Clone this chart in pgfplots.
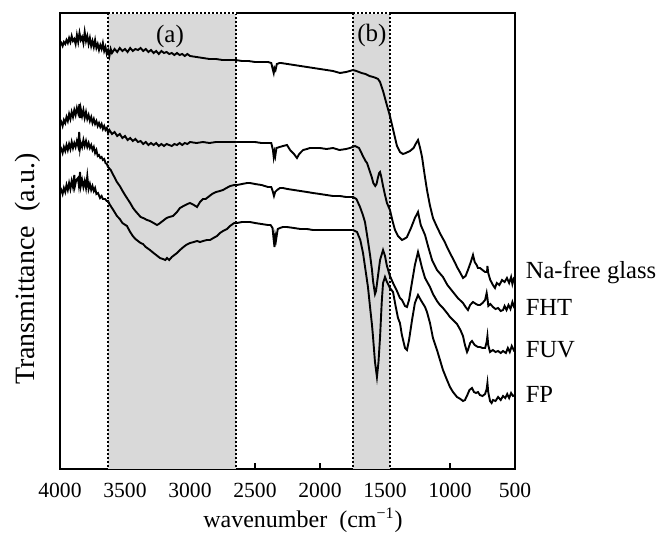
\documentclass[border=0pt]{standalone}
\usepackage{pgfplots}
\pgfplotsset{compat=1.18}
\usepackage{fontspec}
\setmainfont{Liberation Serif}
\definecolor{shade}{RGB}{217,217,217}
\begin{document}
\begin{tikzpicture}
\useasboundingbox (0,0) rectangle (331.5pt,267.5pt);
\begin{axis}[
  at={(30pt,33pt)}, anchor=south west,
  width=227.5pt, height=228pt, scale only axis,
  x dir=reverse, y dir=reverse,
  xmin=500, xmax=4000, ymin=13, ymax=469,
  xtick={500,1000,...,4000}, ytick=\empty,
  xtick pos=left, tick align=inside,
  major tick length=3pt,
  every tick/.style={black, line width=0.9pt},
  axis line style={line width=1pt},
  /pgf/number format/1000 sep={},
  /pgf/number format/assume math mode=true,
  xticklabel style={font=\fontsize{10.8}{12}\selectfont, yshift=-3.5pt},
  xlabel={wavenumber\ \ (cm\textsuperscript{−1})},
  xlabel style={at={(axis description cs:0.534,-0.112)}, anchor=center, font=\fontsize{12}{14}\selectfont},
  ylabel={Transmittance\ \ (a.u.)},
  ylabel style={at={(axis description cs:-0.07,0.439)}, anchor=center, font=\fontsize{14}{16}\selectfont},
  clip=false,
]
\addplot[draw=none, fill=shade] coordinates {(3630,13) (2645,13) (2645,469) (3630,469)};
\addplot[draw=none, fill=shade] coordinates {(1745,13) (1460,13) (1460,469) (1745,469)};
\addplot[densely dotted, line width=1pt] coordinates {(3630,13) (3630,469)};
\addplot[densely dotted, line width=1pt] coordinates {(2645,13) (2645,469)};
\addplot[densely dotted, line width=1pt] coordinates {(1745,13) (1745,469)};
\addplot[densely dotted, line width=1pt] coordinates {(1460,13) (1460,469)};
\coordinate (A1) at (axis cs:3630,13);
\coordinate (A2) at (axis cs:2645,13);
\coordinate (B1) at (axis cs:1745,13);
\coordinate (B2) at (axis cs:1460,13);

% Na-free glass
\addplot[black, line width=0.95pt] coordinates {(4000,45) (3990,43) (3980,46) (3970,42) (3960,44) (3950,40) (3940,43) (3930,38) (3920,42) (3910,36) (3900,41) (3890,39) (3880,44) (3870,35) (3860,42) (3850,33) (3840,40) (3830,37) (3820,43) (3810,32) (3800,41) (3790,36) (3780,44) (3770,38) (3760,46) (3750,41) (3740,47) (3730,40) (3720,48) (3710,44) (3700,50) (3690,45) (3680,49) (3670,43) (3660,51) (3650,47) (3640,54) (3630,50) (3620,56) (3610,49) (3600,53) (3580,49) (3560,52) (3540,48) (3520,51) (3500,49) (3480,52) (3460,48) (3440,51) (3420,49) (3400,50) (3380,48) (3360,51) (3340,49) (3320,52) (3300,50) (3280,53) (3260,51) (3240,54) (3220,51) (3200,53) (3180,52) (3160,54) (3140,53) (3120,55) (3100,53) (3080,55) (3060,54) (3040,56) (3020,54) (3000,56) (2950,57) (2900,58) (2850,59) (2800,59) (2750,60) (2700,60) (2650,60) (2600,61) (2550,61) (2500,62) (2450,62) (2400,62) (2375,63) (2362,70) (2356,73) (2350,68) (2342,70) (2332,64) (2310,63) (2300,63) (2250,64) (2200,65) (2150,66) (2100,67) (2050,68) (2000,69) (1950,70) (1900,71) (1846,73) (1800,72) (1770,71) (1746,70) (1720,71) (1700,72) (1680,73) (1650,74) (1620,76) (1590,77) (1570,78) (1554,79) (1538,82) (1515,91) (1490,103) (1462,116) (1435,131) (1408,146) (1385,152) (1362,154) (1340,153) (1308,151) (1280,148) (1260,143) (1246,140) (1230,148) (1215,157) (1195,175) (1177,190) (1155,205) (1131,218) (1100,227) (1070,235) (1040,242) (1023,247) (1000,253) (980,258) (960,263) (946,267) (920,273) (900,278) (880,276) (862,270) (840,262) (823,255) (810,262) (795,265) (785,268) (769,268) (750,270) (730,272) (715,272) (712,266) (706,273) (690,280) (670,285) (654,288) (640,283) (620,285) (600,280) (580,282) (562,278) (545,283) (530,277) (520,284) (510,279) (500,281)};

% FHT
\addplot[black, line width=0.95pt] coordinates {(4000,125) (3990,122) (3980,126) (3970,120) (3960,123) (3950,117) (3940,121) (3930,114) (3920,119) (3910,112) (3900,117) (3890,110) (3880,115) (3870,108) (3860,113) (3850,104) (3845,118) (3840,109) (3830,116) (3820,110) (3810,118) (3800,112) (3790,119) (3780,115) (3770,121) (3760,117) (3750,123) (3740,119) (3730,124) (3720,121) (3710,126) (3700,123) (3690,127) (3680,124) (3670,129) (3660,126) (3650,130) (3640,128) (3630,133) (3620,130) (3600,134) (3580,132) (3560,136) (3540,134) (3520,138) (3500,136) (3480,140) (3460,138) (3440,141) (3420,139) (3400,142) (3380,141) (3360,144) (3340,142) (3320,145) (3300,143) (3280,145) (3260,143) (3240,146) (3220,144) (3200,146) (3180,144) (3160,145) (3140,146) (3120,144) (3100,145) (3080,143) (3060,145) (3040,143) (3020,144) (3000,142) (2950,143) (2900,142) (2850,143) (2800,142) (2750,142) (2700,142) (2650,142) (2600,142) (2550,142) (2500,142) (2450,143) (2400,143) (2375,143) (2362,150) (2356,157) (2350,152) (2344,156) (2335,148) (2310,147) (2285,146) (2254,145) (2230,150) (2200,154) (2177,158) (2160,154) (2130,150) (2100,149) (2077,148) (2050,148) (2000,148) (1950,149) (1900,148) (1850,150) (1800,149) (1770,148) (1750,147) (1730,146) (1715,147) (1700,148) (1692,150) (1670,156) (1650,161) (1638,163) (1615,172) (1600,178) (1590,183) (1575,186) (1565,184) (1555,178) (1545,173) (1538,172) (1530,176) (1515,186) (1500,195) (1485,203) (1462,210) (1440,222) (1423,230) (1400,236) (1369,240) (1340,238) (1331,237) (1300,228) (1270,218) (1246,212) (1225,225) (1192,235) (1165,248) (1138,260) (1100,270) (1054,277) (1020,285) (977,292) (940,298) (900,303) (880,307) (862,310) (845,305) (823,302) (800,304) (785,305) (769,305) (750,303) (730,300) (718,293) (712,298) (705,306) (690,304) (669,307) (650,309) (630,308) (610,311) (592,310) (580,306) (565,310) (550,305) (535,309) (520,302) (510,306) (500,303)};

% FUV
\addplot[black, line width=0.95pt] coordinates {(4000,152) (3990,149) (3980,153) (3970,147) (3960,151) (3950,145) (3940,150) (3930,144) (3920,149) (3910,142) (3900,148) (3890,143) (3880,147) (3870,141) (3860,146) (3852,132) (3846,148) (3840,143) (3830,147) (3820,140) (3810,146) (3800,141) (3790,147) (3780,143) (3770,148) (3760,145) (3750,150) (3740,147) (3730,153) (3720,150) (3710,156) (3700,155) (3690,158) (3680,157) (3670,160) (3660,159) (3650,163) (3640,164) (3630,167) (3610,170) (3590,175) (3562,182) (3540,186) (3523,190) (3500,195) (3485,198) (3460,203) (3438,208) (3420,211) (3400,214) (3380,217) (3360,218) (3330,220) (3308,221) (3280,223) (3254,225) (3240,224) (3220,222) (3200,220) (3180,218) (3160,217) (3131,216) (3100,212) (3077,208) (3050,206) (3020,204) (3000,203) (2970,205) (2946,207) (2923,202) (2900,199) (2880,199) (2860,197) (2830,194) (2800,192) (2770,191) (2746,190) (2720,188) (2690,186) (2660,185) (2638,185) (2600,184) (2560,183) (2538,183) (2500,184) (2450,185) (2400,187) (2375,187) (2362,192) (2354,196) (2345,192) (2330,190) (2308,188) (2285,188) (2250,189) (2200,190) (2150,191) (2100,192) (2054,193) (2000,194) (1950,195) (1900,196) (1846,196) (1800,197) (1746,197) (1720,199) (1692,207) (1670,215) (1654,222) (1638,235) (1615,255) (1600,270) (1592,281) (1577,294) (1569,291) (1554,276) (1538,260) (1515,250) (1500,256) (1485,266) (1462,276) (1438,283) (1408,291) (1385,298) (1369,300) (1346,306) (1331,307) (1315,300) (1292,282) (1270,265) (1246,252) (1230,260) (1215,268) (1192,278) (1154,287) (1131,294) (1100,301) (1077,305) (1054,308) (1023,313) (1000,317) (977,320) (946,324) (920,330) (900,336) (885,345) (869,352) (862,350) (845,343) (831,341) (810,345) (785,347) (769,347) (750,348) (730,348) (718,342) (712,336) (706,345) (692,352) (670,350) (650,352) (630,351) (610,353) (592,351) (570,353) (555,348) (540,352) (525,346) (510,350) (500,348)};

% FP
\addplot[black, line width=0.95pt] coordinates {(4000,193) (3990,190) (3980,194) (3970,188) (3960,192) (3950,185) (3940,190) (3930,183) (3920,189) (3910,181) (3900,187) (3890,175) (3885,186) (3875,180) (3862,178) (3855,185) (3846,172) (3840,186) (3830,180) (3820,187) (3810,181) (3800,188) (3790,176) (3780,189) (3770,184) (3760,190) (3750,186) (3740,191) (3730,188) (3720,194) (3708,193) (3692,198) (3680,196) (3670,199) (3654,199) (3640,201) (3631,201) (3615,205) (3590,210) (3562,216) (3540,219) (3520,223) (3485,226) (3460,232) (3440,236) (3420,239) (3400,241) (3380,243) (3362,244) (3340,247) (3308,250) (3280,253) (3260,255) (3231,258) (3208,259) (3190,260) (3177,258) (3160,260) (3140,257) (3120,255) (3100,253) (3077,250) (3050,247) (3030,245) (3000,243) (2970,242) (2946,241) (2923,242) (2900,241) (2870,240) (2846,240) (2820,238) (2792,236) (2769,233) (2746,231) (2715,229) (2692,226) (2660,223) (2638,223) (2600,222) (2560,222) (2538,222) (2500,223) (2450,224) (2400,225) (2380,225) (2365,228) (2356,240) (2350,247) (2344,236) (2338,240) (2325,229) (2308,228) (2285,227) (2254,227) (2200,228) (2150,229) (2100,229) (2054,230) (2000,230) (1950,230) (1900,230) (1846,230) (1800,230) (1769,230) (1746,230) (1715,232) (1690,240) (1669,253) (1650,270) (1631,287) (1615,307) (1600,325) (1592,337) (1577,362) (1562,377) (1550,362) (1538,337) (1525,302) (1515,283) (1500,277) (1485,282) (1462,288) (1438,292) (1420,305) (1400,318) (1385,323) (1370,335) (1346,348) (1331,350) (1315,340) (1292,320) (1270,303) (1246,295) (1225,300) (1192,307) (1177,312) (1154,323) (1131,338) (1100,350) (1077,360) (1054,370) (1023,380) (1000,387) (977,392) (946,397) (920,399) (900,401) (885,400) (870,396) (850,390) (831,388) (815,392) (800,393) (785,392) (770,395) (750,396) (730,394) (718,389) (712,383) (706,392) (692,401) (680,403) (669,400) (650,401) (630,397) (610,400) (592,396) (575,398) (560,394) (545,398) (530,393) (515,396) (500,395)};

\node[font=\fontsize{12.5}{14}\selectfont] at (axis cs:3154,36) {(a)};
\node[font=\fontsize{12.5}{14}\selectfont] at (axis cs:1600,35) {(b)};
\node[anchor=base west, inner sep=0pt, font=\fontsize{12.3}{14}\selectfont] at (axis cs:420,278) {Na-free glass};
\node[anchor=base west, inner sep=0pt, font=\fontsize{12.3}{14}\selectfont] at (axis cs:420,315) {FHT};
\node[anchor=base west, inner sep=0pt, font=\fontsize{12.3}{14}\selectfont] at (axis cs:420,357) {FUV};
\node[anchor=base west, inner sep=0pt, font=\fontsize{12.3}{14}\selectfont] at (axis cs:420,402) {FP};
\end{axis}
\draw[white, line width=1.1pt] (A1) -- (A2);
\draw[densely dotted, line width=1pt] (A1) -- (A2);
\draw[white, line width=1.1pt] (B1) -- (B2);
\draw[densely dotted, line width=1pt] (B1) -- (B2);
\end{tikzpicture}
\end{document}
